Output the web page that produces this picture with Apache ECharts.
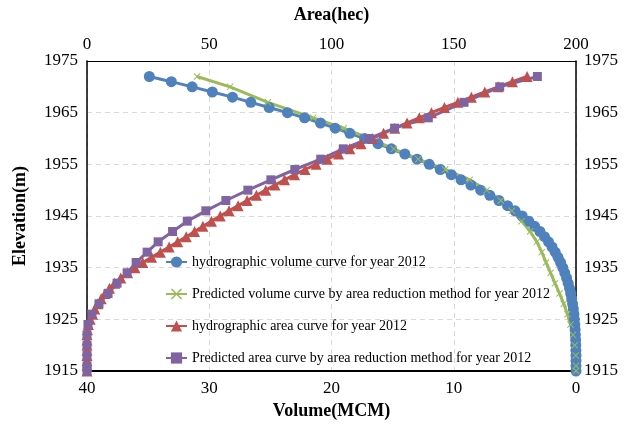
<!DOCTYPE html>
<html>
<head>
<meta charset="utf-8">
<script src="https://cdn.jsdelivr.net/npm/echarts@6/dist/echarts.min.js"></script>
<style>
html,body{margin:0;padding:0;background:#fff;}
#chart{width:628px;height:427px;}
</style>
</head>
<body>
<div id="chart"></div>
<script>
// Hydrographic survey elevations (m), every 1 m
var elevHydro = [1915,1916,1917,1918,1919,1920,1921,1922,1923,1924,1925,1926,1927,1928,1929,1930,1931,1932,1933,1934,1935,1936,1937,1938,1939,1940,1941,1942,1943,1944,1945,1946,1947,1948,1949,1950,1951,1952,1953,1954,1955,1956,1957,1958,1959,1960,1961,1962,1963,1964,1965,1966,1967,1968,1969,1970,1971,1972];
// Hydrographic volume (MCM)
var volHydro = [0,0,0,0,0.01,0.02,0.03,0.05,0.07,0.1,0.13,0.17,0.22,0.28,0.35,0.43,0.53,0.64,0.77,0.92,1.08,1.26,1.47,1.7,1.96,2.25,2.58,2.95,3.38,3.86,4.4,4.98,5.6,6.3,7.05,7.8,8.6,9.4,10.2,11.1,12.0,13.0,14.0,15.1,16.2,17.3,18.5,19.7,20.9,22.2,23.6,25.1,26.6,28.1,29.75,31.4,33.1,34.9];
// Hydrographic area (hec)
var areaHydro = [0,0,0,0,0,0,0,0,0.2,0.6,1.3,2.3,3.2,4.4,5.8,7.4,9.2,11.3,13.8,16.6,19.6,22.8,26.4,30.0,33.6,37.1,40.6,44.0,47.4,50.9,54.5,58.1,61.8,65.5,69.3,73.1,76.9,80.8,84.9,89.2,93.7,98.3,102.9,107.5,112.1,116.7,121.3,125.9,130.9,135.9,140.9,146.2,151.7,157.2,162.7,168.2,174.0,180.0];
// Predicted (area reduction method) elevations (m)
var elevPred = [1915,1916,1918,1920,1922,1924,1926,1928,1930,1932,1934,1936,1938,1940,1942,1944,1946,1948,1950,1952,1954,1956,1958,1960,1962,1964,1967,1970,1972];
// Predicted volume (MCM)
var volPred = [0,0,0.02,0.1,0.25,0.45,0.7,1.0,1.35,1.72,2.08,2.45,2.8,3.2,3.75,4.45,5.25,6.15,7.3,8.7,10.7,12.9,14.9,16.9,19.0,21.5,25.2,28.3,31.0];
// Predicted area (hec)
var areaPred = [0,0,0,0,0,0.4,2.0,4.9,8.6,12.3,16.4,20.1,24.6,29.1,35.0,41.0,48.6,56.8,65.8,75.2,85.0,95.6,104.8,115.4,125.8,139.6,154.2,168.8,184.2];

var seriesNames = [
  'hydrographic volume curve for year 2012',
  'Predicted volume curve by area reduction method for year 2012',
  'hydrographic area curve for year 2012',
  'Predicted area curve by area reduction method for year 2012'
];

function pairs(xs, ys){ return xs.map(function(x,i){ return [x, ys[i]]; }); }
function plain(v){ return String(v); }

var FONT = 'Liberation Serif';
var xMark = 'path://M0,1L1,0L5,4L9,0L10,1L6,5L10,9L9,10L5,6L1,10L0,9L4,5Z';

var chart = echarts.init(document.getElementById('chart'));
chart.setOption({
  animation: false,
  backgroundColor: '#ffffff',
  grid: {left: 87, right: 52, top: 61, bottom: 56, show: false},
  legend: {
    orient: 'vertical', left: 165, top: 255, itemGap: 18, padding: 0,
    itemWidth: 21, itemHeight: 14,
    textStyle: {fontFamily: FONT, fontSize: 14, color: '#000'},
    data: seriesNames
  },
  xAxis: [
    {
      type: 'value', position: 'bottom', min: 0, max: 40, interval: 10, inverse: true,
      name: 'Volume(MCM)', nameLocation: 'middle', nameGap: 31,
      nameTextStyle: {fontFamily: FONT, fontSize: 18, fontWeight: 'bold', color: '#000'},
      axisLine: {show: true, onZero: false, lineStyle: {color: '#000', width: 2}},
      axisTick: {show: false},
      axisLabel: {fontFamily: FONT, fontSize: 17, color: '#000', margin: 9, formatter: plain},
      splitLine: {show: true, lineStyle: {color: '#d9d9d9', type: [5,4], width: 1}}
    },
    {
      type: 'value', position: 'top', min: 0, max: 200, interval: 50,
      name: 'Area(hec)', nameLocation: 'middle', nameGap: 37,
      nameTextStyle: {fontFamily: FONT, fontSize: 18, fontWeight: 'bold', color: '#000'},
      axisLine: {show: true, onZero: false, lineStyle: {color: '#000', width: 1}},
      axisTick: {show: false},
      axisLabel: {fontFamily: FONT, fontSize: 17, color: '#000', margin: 8, formatter: plain},
      splitLine: {show: false}
    }
  ],
  yAxis: [
    {
      type: 'value', position: 'left', min: 1915, max: 1975, interval: 10,
      name: 'Elevation(m)', nameLocation: 'middle', nameGap: 58, nameRotate: 90,
      nameTextStyle: {fontFamily: FONT, fontSize: 18, fontWeight: 'bold', color: '#000'},
      axisLine: {show: true, onZero: false, lineStyle: {color: '#000', width: 1.5}},
      axisTick: {show: false},
      axisLabel: {fontFamily: FONT, fontSize: 17, color: '#000', margin: 9, formatter: plain},
      splitLine: {show: true, lineStyle: {color: '#d9d9d9', type: [5,4], width: 1}}
    },
    {
      type: 'value', position: 'right', min: 1915, max: 1975, interval: 10,
      axisLine: {show: true, onZero: false, lineStyle: {color: '#000', width: 1.5}},
      axisTick: {show: false},
      axisLabel: {fontFamily: FONT, fontSize: 17, color: '#000', margin: 8, formatter: plain},
      splitLine: {show: false}
    }
  ],
  series: [
    {
      name: seriesNames[0], type: 'line', xAxisIndex: 0, yAxisIndex: 0,
      data: pairs(volHydro, elevHydro),
      symbol: 'circle', symbolSize: 11,
      lineStyle: {color: '#4F81BD', width: 3},
      itemStyle: {color: '#4F81BD'}
    },
    {
      name: seriesNames[1], type: 'line', xAxisIndex: 0, yAxisIndex: 0,
      data: pairs(volPred, elevPred),
      symbol: xMark, symbolSize: 7,
      lineStyle: {color: '#9BBB59', width: 3},
      itemStyle: {color: '#9BBB59'}
    },
    {
      name: seriesNames[2], type: 'line', xAxisIndex: 1, yAxisIndex: 0,
      data: pairs(areaHydro, elevHydro),
      symbol: 'triangle', symbolSize: 11,
      lineStyle: {color: '#C0504D', width: 3},
      itemStyle: {color: '#C0504D'}
    },
    {
      name: seriesNames[3], type: 'line', xAxisIndex: 1, yAxisIndex: 0,
      data: pairs(areaPred, elevPred),
      symbol: 'rect', symbolSize: 9,
      lineStyle: {color: '#8064A2', width: 3},
      itemStyle: {color: '#8064A2'}
    }
  ]
});
</script>
</body>
</html>
